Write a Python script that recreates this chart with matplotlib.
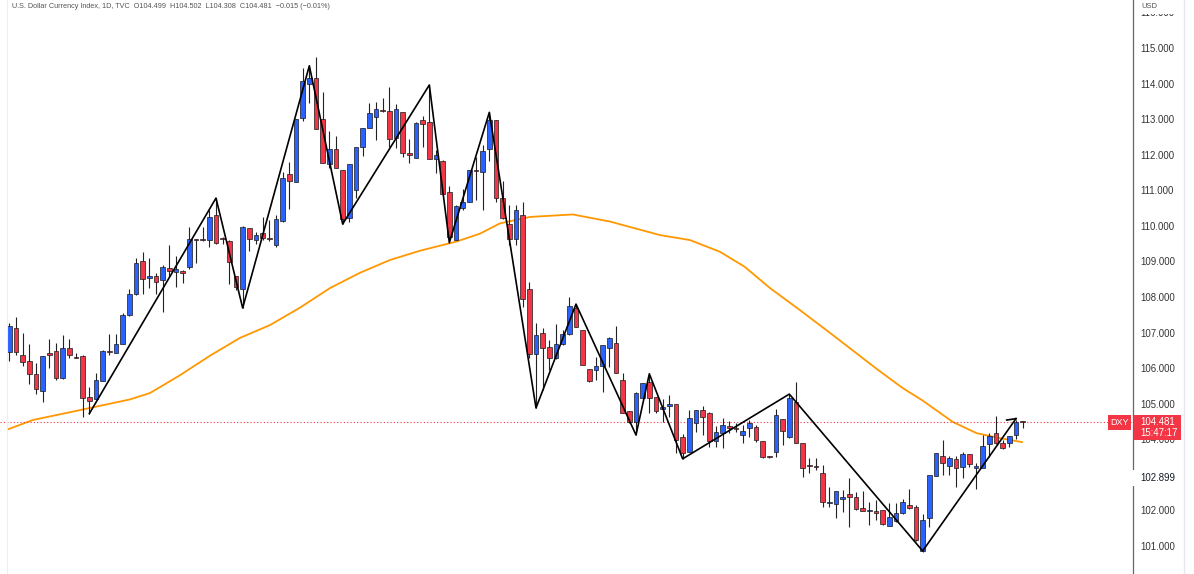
#DXY daily candles with zigzag and moving average
import numpy as np
import matplotlib.pyplot as plt
from matplotlib.patches import Rectangle
from matplotlib.lines import Line2D

#candle values (oldest first)
opens = [106.44, 107.12, 106.37, 106.20, 105.83, 105.36, 106.43, 106.48, 105.71, 106.57,
         106.32, 106.34, 105.20, 105.13, 105.65, 106.47, 106.43, 106.67, 107.48, 108.08,
         109.00, 108.53, 108.60, 108.48, 108.81, 108.70, 108.73, 108.84, 109.62, 109.61,
         109.59, 110.31, 109.66, 109.58, 108.59, 108.23, 109.95, 109.59, 109.79, 109.63,
         109.45, 110.14, 111.47, 111.22, 113.02, 113.98, 114.17, 112.99, 111.73, 112.15,
         111.57, 110.21, 111.01, 112.23, 112.74, 113.07, 113.26, 113.23, 112.46, 113.19,
         112.06, 111.90, 112.98, 112.93, 111.87, 111.82, 110.94, 109.60, 110.49, 110.66,
         111.55, 111.52, 112.15, 112.98, 110.79, 110.04, 109.62, 110.31, 108.22, 106.40,
         106.98, 106.58, 106.28, 106.68, 106.95, 107.68, 107.07, 105.97, 105.95, 106.06,
         106.56, 106.70, 105.68, 104.79, 104.49, 105.15, 105.62, 105.20, 104.84, 104.93,
         104.98, 104.07, 103.65, 104.45, 104.82, 104.73, 103.95, 104.19, 104.38, 104.32,
         104.12, 104.33, 104.35, 103.95, 103.50, 103.65, 104.56, 104.07, 105.04, 103.89,
         103.29, 103.25, 103.04, 102.20, 102.18, 102.31, 102.46, 102.39, 102.08, 101.99,
         101.98, 102.01, 101.56, 101.71, 101.92, 102.15, 102.09, 100.86, 101.80, 102.98,
         103.53, 103.26, 103.44, 103.23, 103.58, 103.20, 103.20, 103.87, 104.19, 103.89,
         103.90, 104.12, 104.499]
highs = [107.28, 107.43, 106.98, 106.67, 106.15, 106.34, 106.81, 106.70, 106.93, 106.81,
         106.43, 106.37, 105.48, 105.85, 106.51, 106.95, 106.95, 107.54, 108.23, 109.09,
         109.26, 109.09, 108.67, 108.90, 109.46, 109.14, 108.76, 109.96, 109.64, 109.98,
         110.45, 110.78, 109.70, 109.60, 108.60, 110.00, 109.95, 109.84, 110.26, 110.16,
         110.30, 111.52, 111.80, 113.00, 114.45, 114.52, 114.76, 113.77, 112.67, 112.53,
         111.57, 111.73, 112.23, 112.74, 113.46, 113.49, 113.59, 113.91, 113.42, 113.19,
         112.43, 112.93, 113.09, 113.96, 112.13, 111.85, 111.12, 110.59, 111.04, 111.57,
         111.94, 112.27, 113.19, 112.98, 111.27, 110.59, 110.59, 110.68, 108.43, 107.26,
         107.12, 106.79, 107.24, 107.07, 107.99, 107.80, 107.07, 105.97, 106.32, 106.65,
         106.88, 107.18, 105.87, 104.80, 105.34, 105.57, 105.84, 105.20, 105.12, 105.24,
         104.98, 104.15, 104.82, 104.82, 104.93, 104.77, 104.37, 104.59, 104.52, 104.45,
         104.40, 104.54, 104.40, 103.95, 103.52, 104.84, 104.56, 105.27, 105.62, 103.89,
         103.48, 103.48, 103.28, 102.67, 102.55, 102.57, 102.90, 102.53, 102.55, 102.24,
         102.29, 102.01, 102.20, 102.20, 102.31, 102.60, 102.15, 101.90, 102.99, 103.62,
         103.98, 103.53, 103.53, 103.65, 103.58, 103.32, 104.12, 104.17, 104.65, 103.98,
         104.09, 104.54, 104.502]
lows = [106.21, 106.37, 106.07, 105.55, 105.26, 105.06, 106.00, 105.67, 105.69, 106.28,
        106.28, 104.63, 104.70, 105.13, 105.65, 106.37, 106.43, 106.67, 107.46, 108.06,
        108.08, 108.25, 108.08, 107.59, 108.57, 108.29, 108.39, 108.79, 108.95, 109.58,
        109.40, 109.48, 109.50, 108.36, 108.20, 107.69, 109.28, 109.50, 109.60, 109.58,
        109.40, 110.12, 110.46, 111.22, 112.95, 113.44, 112.71, 111.76, 111.64, 111.64,
        110.05, 110.12, 110.77, 111.95, 112.74, 112.41, 113.20, 112.23, 112.18, 111.93,
        111.78, 111.90, 112.23, 111.87, 111.48, 110.89, 109.53, 109.60, 110.45, 110.66,
        110.74, 110.45, 111.82, 110.68, 110.18, 109.46, 109.46, 107.73, 106.28, 104.88,
        105.38, 105.95, 106.25, 106.65, 106.93, 107.15, 106.09, 105.62, 105.67, 105.34,
        106.04, 105.85, 104.73, 104.47, 104.12, 105.12, 104.73, 104.73, 104.49, 104.63,
        103.60, 103.45, 103.65, 104.21, 104.12, 103.79, 103.79, 103.75, 104.17, 104.20,
        103.89, 104.07, 103.93, 103.46, 103.47, 103.49, 103.84, 104.04, 103.89, 102.95,
        103.04, 103.14, 102.10, 102.10, 101.78, 101.96, 101.54, 102.01, 101.99, 101.59,
        101.73, 101.59, 101.56, 101.68, 101.90, 102.04, 101.15, 100.84, 101.54, 102.98,
        102.99, 102.99, 102.65, 102.90, 103.23, 102.59, 103.20, 103.51, 103.87, 103.74,
        103.79, 104.00, 104.308]
closes = [107.19, 106.44, 106.18, 105.83, 105.40, 106.34, 106.37, 105.73, 106.57, 106.37,
          106.29, 105.17, 105.08, 105.67, 106.49, 106.45, 106.67, 107.49, 108.08, 108.95,
          108.50, 108.60, 108.41, 108.83, 108.74, 108.79, 108.67, 109.62, 109.60, 109.60,
          110.24, 109.51, 109.64, 108.97, 108.29, 109.98, 109.62, 109.73, 109.65, 109.62,
          110.18, 111.34, 111.26, 113.00, 114.08, 114.16, 112.71, 111.76, 112.15, 111.64,
          110.18, 111.73, 112.23, 112.74, 113.16, 113.28, 113.23, 112.43, 113.28, 112.06,
          111.99, 112.90, 112.85, 111.87, 111.99, 110.89, 109.68, 110.56, 110.66, 111.57,
          111.53, 112.10, 112.98, 110.77, 110.21, 109.62, 110.45, 107.93, 106.40, 106.93,
          106.56, 106.28, 106.67, 106.95, 107.76, 107.15, 106.09, 105.64, 106.06, 106.65,
          106.84, 105.87, 104.73, 104.49, 105.29, 105.57, 105.15, 104.80, 104.92, 104.99,
          103.99, 103.60, 104.59, 104.82, 104.63, 103.96, 104.21, 104.40, 104.32, 104.30,
          104.24, 104.47, 103.98, 103.49, 103.49, 104.68, 104.24, 105.15, 103.89, 103.18,
          103.26, 103.22, 102.23, 102.20, 102.55, 102.37, 102.39, 102.03, 101.99, 101.99,
          101.92, 101.62, 101.82, 101.92, 102.23, 102.08, 101.17, 101.73, 102.99, 103.62,
          103.32, 103.46, 103.18, 103.58, 103.30, 103.26, 103.81, 104.09, 103.89, 103.76,
          104.09, 104.496, 104.481]

#zigzag swing points: candle number and price
zz_idx = [12, 31, 35, 45, 50, 63, 66, 72, 79, 85, 94, 96, 101, 117, 137, 151]
zz_price = [104.72, 110.78, 107.69, 114.50, 110.05, 113.96, 109.53, 113.19, 104.88,
            107.80, 104.12, 105.84, 103.45, 105.27, 100.86, 104.58]

#orange moving average read at some candles
ma_idx = [-0.2, 3.5, 10.6, 18.1, 21.1, 25.6, 30.1, 34.6, 39.1, 43.6, 48.1, 52.6, 57.1,
          61.6, 67.1, 70.6, 73.6, 78.1, 84.5, 90.1, 97.6, 102.1, 106.6, 110.3, 114.1,
          118.6, 123.1, 130.3, 134.0, 136.9, 141.5, 145.1, 148.6, 151.9]
ma_val = [104.28, 104.54, 104.82, 105.12, 105.30, 105.80, 106.35, 106.85, 107.21, 107.70,
          108.25, 108.68, 109.04, 109.30, 109.56, 109.78, 110.07, 110.25, 110.32, 110.12,
          109.74, 109.60, 109.27, 108.85, 108.25, 107.63, 106.99, 105.95, 105.44, 105.10,
          104.49, 104.17, 104.03, 103.92]

yticks = [101, 102, 103, 104, 105, 106, 107, 108, 109, 110, 111, 112, 113, 114, 115, 116]
last_price = 104.481
header = "U.S. Dollar Currency Index, 1D, TVC  O104.499  H104.502  L104.308  C104.481  \u22120.015 (\u22120.01%)"

W, H = 1194, 574
blue = '#2962FF'
red = '#F23645'

fig = plt.figure(figsize=(W/100, H/100), dpi=100)
fig.patch.set_facecolor('white')
ax = fig.add_axes([0, 0, 1133/W, 1])
ax.set_xlim(-1.4, 168.55)
ax.set_ylim(100.212, 116.349)

o = np.array(opens); h = np.array(highs); l = np.array(lows); c = np.array(closes)
x = np.arange(len(o))
up = c >= o
cols = np.where(up, blue, red)

#moving average under the candles
ax.plot(ma_idx, ma_val, color='#FF9800', lw=1.3, zorder=1)

#wicks and bodies
ax.vlines(x, l, h, color='#222222', lw=0.8, zorder=2)
ax.bar(x, np.maximum(np.abs(c-o), 0.03), bottom=np.minimum(o, c), width=0.66,
       color=cols, edgecolor='#1a1a1a', linewidth=0.5, zorder=3)

#zigzag
ax.plot(zz_idx, zz_price, color='black', lw=1.2, zorder=4)
ax.plot([149.6, zz_idx[-1]], [104.54, zz_price[-1]], color='black', lw=1.2, zorder=4)

#last price dotted line
ax.axhline(last_price, color=red, lw=0.8, ls=(0, (1, 2)), zorder=1)

#axis styling
for s in ['top', 'left', 'bottom']:
    ax.spines[s].set_visible(False)
ax.spines['right'].set_color('#666666')
ax.spines['right'].set_linewidth(0.9)
ax.set_xticks([])
ax.yaxis.tick_right()
ax.set_yticks(yticks)
ax.set_yticklabels(["%.3f" % t for t in yticks])
ax.tick_params(axis='y', length=0, pad=5, labelsize=6.9, labelcolor='#333333')
for t in ax.get_yticklabels():
    t.set_fontfamily('Liberation Sans')

def fx(px):
    return px / W

def fy(py):
    return 1 - py / H

#header text
fig.text(fx(12), fy(7), header, fontsize=5.2, color='#555555', family='Liberation Sans',
         va='center', ha='left')

#USD label hiding the top tick
fig.patches.append(Rectangle((fx(1136), fy(14)), fx(46), 14/H, transform=fig.transFigure,
                             facecolor='white', edgecolor='none', zorder=5))
fig.text(fx(1141), fy(6), 'USD', fontsize=5.5, color='#555555', family='Liberation Sans',
         va='center', ha='left', zorder=6)

#102.899 label
fig.patches.append(Rectangle((fx(1131), fy(486)), fx(52), 16/H, transform=fig.transFigure,
                             facecolor='white', edgecolor='none', zorder=5))
fig.text(fx(1140), fy(478), '102.899', fontsize=6.9, color='#131722', family='Liberation Sans',
         va='center', ha='left', zorder=6)

#DXY tag and price box
fig.patches.append(Rectangle((fx(1108), fy(430)), fx(23), 15/H, transform=fig.transFigure,
                             facecolor=red, edgecolor='none', zorder=5))
fig.text(fx(1119.5), fy(422.5), 'DXY', fontsize=6.5, color='white', family='Liberation Sans',
         va='center', ha='center', zorder=6)
fig.patches.append(Rectangle((fx(1134), fy(440)), fx(47), 25/H, transform=fig.transFigure,
                             facecolor=red, edgecolor='none', zorder=5))
fig.text(fx(1140), fy(422), '104.481', fontsize=6.9, color='white', family='Liberation Sans',
         va='center', ha='left', zorder=6)
fig.text(fx(1140), fy(433), '15:47:17', fontsize=6.9, color='white', family='Liberation Sans',
         va='center', ha='left', zorder=6)

#thin panel borders
fig.add_artist(Line2D([fx(7), fx(7)], [0, 1], color='#eeeeee', lw=0.8))
fig.add_artist(Line2D([fx(1183.5), fx(1183.5)], [0, 1], color='#e6e8ee', lw=1.0))

plt.savefig("out.png", dpi=100)
